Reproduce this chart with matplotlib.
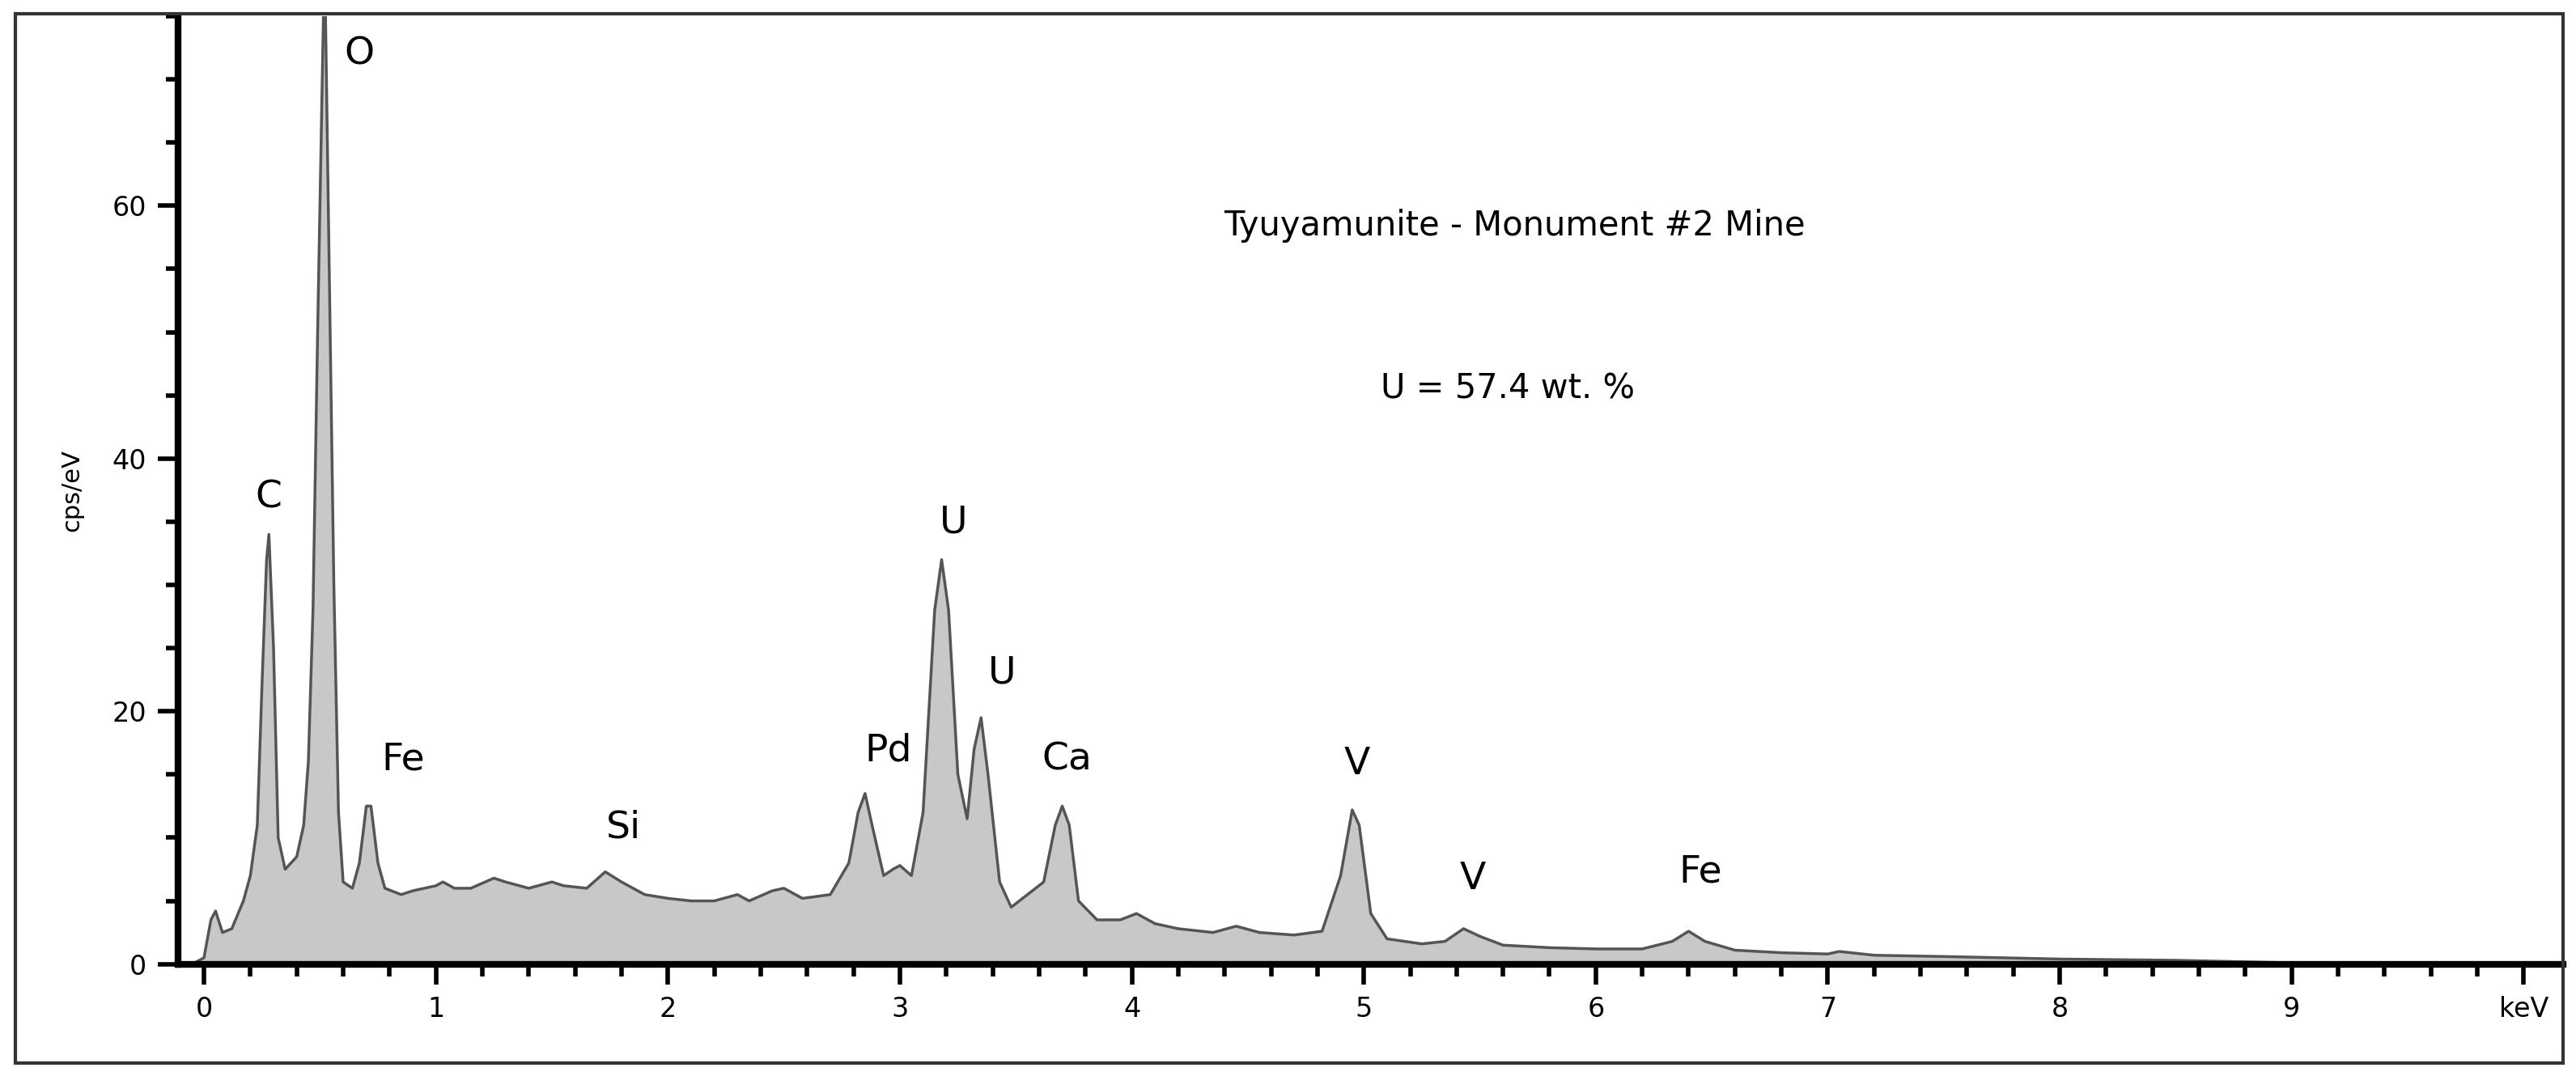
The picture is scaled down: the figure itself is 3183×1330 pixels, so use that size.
import matplotlib.pyplot as plt
from matplotlib.patches import Rectangle
from matplotlib.ticker import MultipleLocator

# spectrum (keV, cps/eV)
energy = [-0.05, 0.0, 0.03, 0.05, 0.08, 0.12, 0.17, 0.20, 0.23, 0.25, 0.27, 0.28, 0.30, 0.32,
          0.35, 0.40, 0.43, 0.45, 0.47, 0.49, 0.51, 0.52, 0.54, 0.56, 0.58, 0.60, 0.64, 0.67,
          0.70, 0.72, 0.75, 0.78, 0.85, 0.90, 0.95, 1.00, 1.03, 1.08, 1.15, 1.25, 1.30, 1.40,
          1.50, 1.55, 1.65, 1.73, 1.80, 1.90, 2.00, 2.10, 2.20, 2.30, 2.35, 2.45, 2.50, 2.58,
          2.70, 2.78, 2.82, 2.85, 2.88, 2.93, 2.97, 3.00, 3.05, 3.10, 3.15, 3.18, 3.21, 3.25,
          3.29, 3.32, 3.35, 3.38, 3.43, 3.48, 3.55, 3.62, 3.67, 3.70, 3.73, 3.77, 3.85, 3.95,
          4.02, 4.10, 4.20, 4.35, 4.45, 4.55, 4.70, 4.82, 4.90, 4.95, 4.98, 5.03, 5.10, 5.25,
          5.35, 5.43, 5.50, 5.60, 5.80, 6.00, 6.20, 6.33, 6.40, 6.47, 6.60, 6.80, 7.00, 7.05,
          7.20, 7.50, 8.00, 8.50, 9.00, 9.50, 10.17]
counts = [0, 0.5, 3.5, 4.2, 2.5, 2.8, 5, 7, 11, 22, 32, 34, 25, 10,
          7.5, 8.5, 11, 16, 28, 50, 70, 80, 55, 30, 12, 6.5, 6, 8,
          12.5, 12.5, 8, 6, 5.5, 5.8, 6, 6.2, 6.5, 6, 6, 6.8, 6.5, 6.0,
          6.5, 6.2, 6.0, 7.3, 6.5, 5.5, 5.2, 5.0, 5.0, 5.5, 5.0, 5.8, 6.0, 5.2,
          5.5, 8, 12, 13.5, 11, 7, 7.5, 7.8, 7, 12, 28, 32, 28, 15,
          11.5, 17, 19.5, 15, 6.5, 4.5, 5.5, 6.5, 11, 12.5, 11, 5, 3.5, 3.5,
          4.0, 3.2, 2.8, 2.5, 3.0, 2.5, 2.3, 2.6, 7, 12.2, 11, 4, 2, 1.6,
          1.8, 2.8, 2.2, 1.5, 1.3, 1.2, 1.2, 1.8, 2.6, 1.8, 1.1, 0.9, 0.8, 1.0,
          0.7, 0.6, 0.4, 0.3, 0.1, 0.05, 0]

peak_names = ["O", "C", "Fe", "Si", "Pd", "U", "U", "Ca", "V", "V", "Fe"]
peak_x = [0.67, 0.28, 0.86, 1.81, 2.95, 3.23, 3.44, 3.72, 4.97, 5.47, 6.45]
peak_y = [72, 36.9, 16.2, 10.8, 16.9, 34.9, 23.0, 16.2, 15.8, 6.75, 7.3]

fig = plt.figure(figsize=(31.83, 13.30), dpi=100)
fig.patches.append(Rectangle((0.006, 0.012), 0.989, 0.975, transform=fig.transFigure,
                             fill=False, ec='#333333', lw=3))
ax = fig.add_axes([0.069, 0.104, 0.926, 0.881])

ax.fill_between(energy, counts, color='#c8c8c8', lw=0)
ax.plot(energy, counts, color='#555555', lw=2.5)

for name, x, y in zip(peak_names, peak_x, peak_y):
    ax.text(x, y, name, fontsize=34, ha='center', va='center')

ax.text(5.65, 58.4, "Tyuyamunite - Monument #2 Mine", fontsize=30, ha='center', va='center')
ax.text(5.62, 45.5, "U = 57.4 wt. %", fontsize=30, ha='center', va='center')

ax.set_xlim(-0.113, 10.17)
ax.set_ylim(0, 75)
ax.spines[['top', 'right']].set_visible(False)
ax.spines[['left', 'bottom']].set_linewidth(6)
ax.xaxis.set_major_locator(MultipleLocator(1))
ax.xaxis.set_minor_locator(MultipleLocator(0.2))
ax.yaxis.set_major_locator(MultipleLocator(20))
ax.yaxis.set_minor_locator(MultipleLocator(5))
ax.set_xticks(range(11))
ax.set_xticklabels([str(i) for i in range(10)] + ["keV"])
ax.tick_params(which='major', length=18, width=4, labelsize=24, pad=10)
ax.tick_params(which='minor', length=11, width=4)
ax.set_ylabel("cps/eV", fontsize=22, labelpad=25)

fig.savefig("out.png")
